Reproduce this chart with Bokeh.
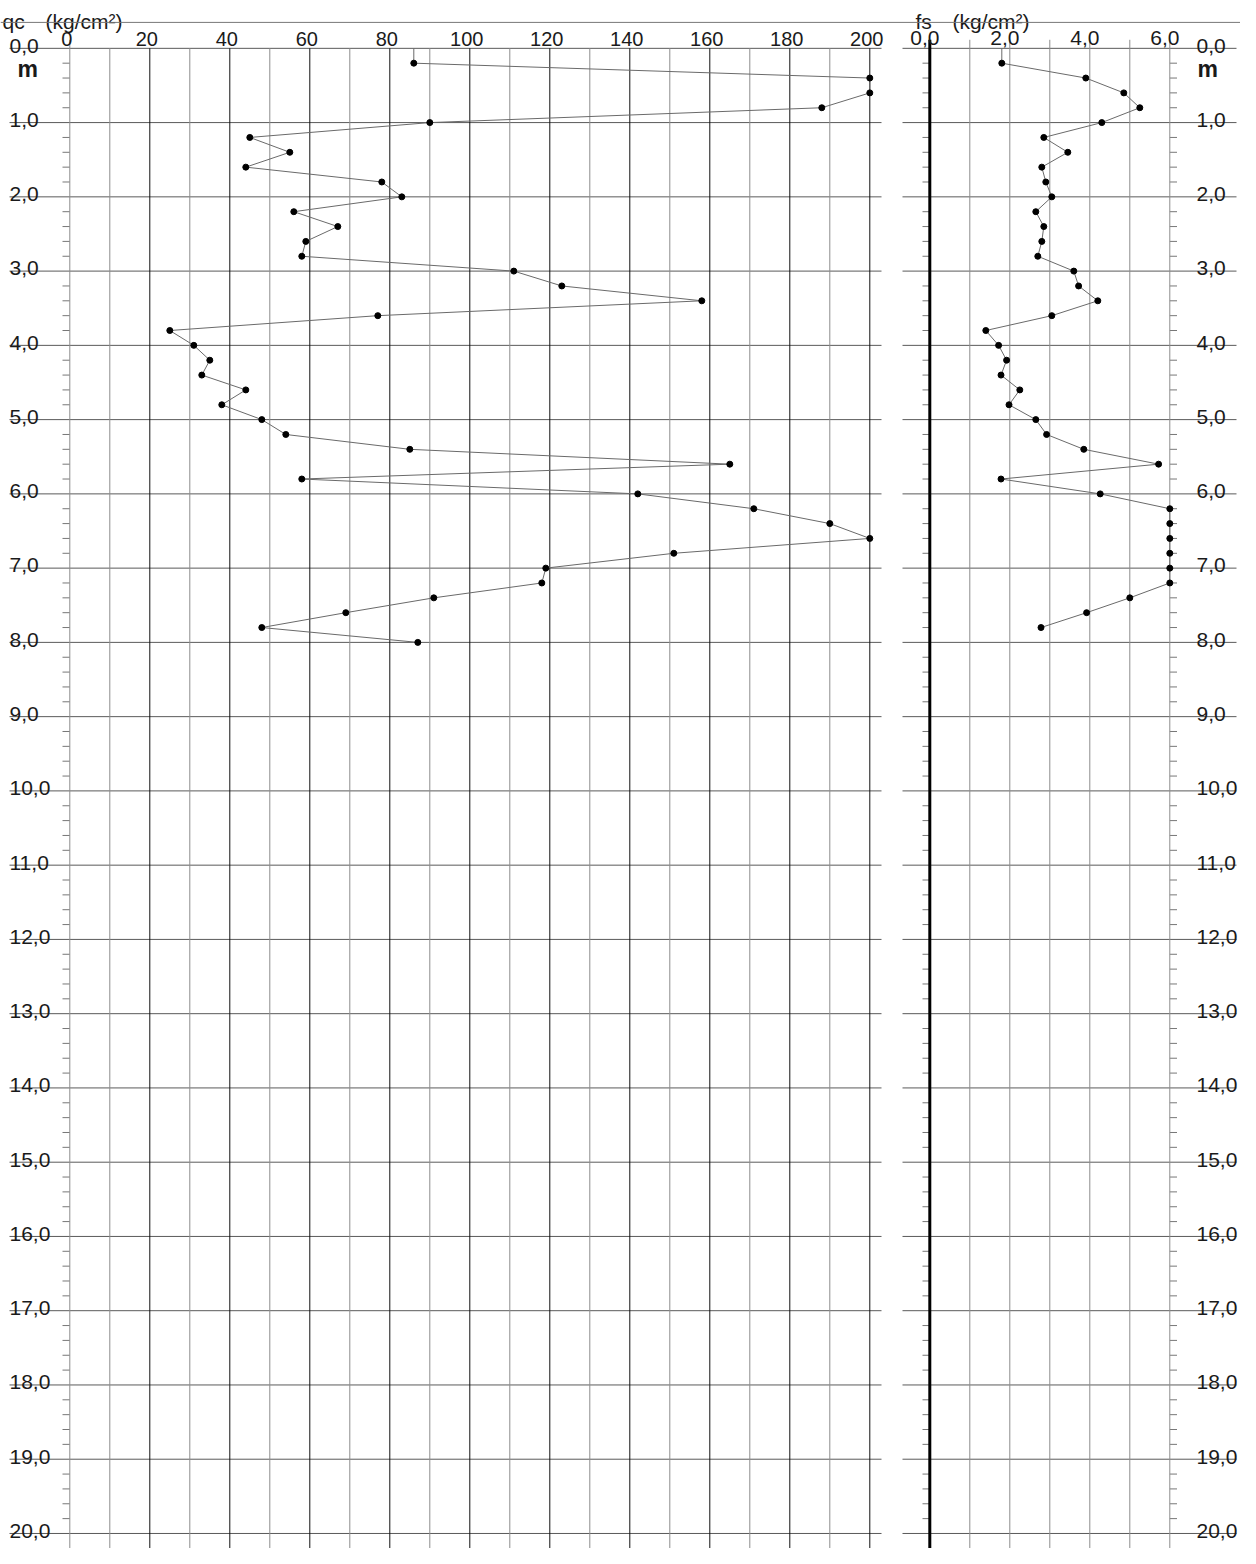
import numpy as np
from bokeh.plotting import figure
from bokeh.models import Range1d, Span
from bokeh.core.properties import value
from bokeh.embed import file_html
from bokeh.resources import INLINE

# ---------------- data ----------------
depth_m = [0.2, 0.4, 0.6, 0.8, 1.0, 1.2, 1.4, 1.6, 1.8, 2.0,
           2.2, 2.4, 2.6, 2.8, 3.0, 3.2, 3.4, 3.6, 3.8, 4.0,
           4.2, 4.4, 4.6, 4.8, 5.0, 5.2, 5.4, 5.6, 5.8, 6.0,
           6.2, 6.4, 6.6, 6.8, 7.0, 7.2, 7.4, 7.6, 7.8, 8.0]
qc_values = [86, 200, 200, 188, 90, 45, 55, 44, 78, 83,
             56, 67, 59, 58, 111, 123, 158, 77, 25, 31,
             35, 33, 44, 38, 48, 54, 85, 165, 58, 142,
             171, 190, 200, 151, 119, 118, 91, 69, 48, 87]
fs_values = [1.8, 3.9, 4.85, 5.25, 4.3, 2.85, 3.45, 2.8, 2.9, 3.05,
             2.65, 2.85, 2.8, 2.7, 3.6, 3.72, 4.2, 3.05, 1.4, 1.72,
             1.92, 1.78, 2.25, 1.98, 2.65, 2.92, 3.85, 5.72, 1.78, 4.26,
             6.0, 6.0, 6.0, 6.0, 6.0, 6.0, 5.0, 3.92, 2.78]
fs_depth = depth_m[:len(fs_values)]

qc_ticks = [0, 20, 40, 60, 80, 100, 120, 140, 160, 180, 200]
qc_labels = ["0", "20", "40", "60", "80", "100", "120", "140", "160", "180", "200"]
fs_ticks = [0, 2, 4, 6]
fs_labels = ["0,0", "2,0", "4,0", "6,0"]
depth_ticks = list(range(0, 21))
depth_labels = ["0,0", "1,0", "2,0", "3,0", "4,0", "5,0", "6,0", "7,0", "8,0", "9,0",
                "10,0", "11,0", "12,0", "13,0", "14,0", "15,0", "16,0", "17,0",
                "18,0", "19,0", "20,0"]

# ---------------- layout helpers (pixel -> data) ----------------
QC0, QCPX = 77.3, 4.0      # qc=0 x-position, px per unit
FS0, FSPX = 937.3, 40.0    # fs=0 x-position, px per unit
D0, DPX = 48.7, 75.6       # depth=0 y-position, px per metre

def qx(px):
    return (px - QC0) / QCPX

def fx(px):
    return (px - FS0) / FSPX

def dy(py):
    return (py - D0) / DPX

W, H = 1240, 1548
p = figure(width=W, height=H,
           x_range=Range1d(qx(8), qx(8 + W)),
           y_range=Range1d(dy(1576), dy(0)),
           output_backend="svg", toolbar_location=None,
           x_axis_location=None, y_axis_location=None, min_border=0)
p.extra_x_ranges = {"fs": Range1d(fx(8), fx(8 + W))}
p.grid.visible = False
p.outline_line_color = None
p.background_fill_color = "white"
p.border_fill_color = "white"

FONT = value("Liberation Sans")
TXT = "#1a1a1a"
GRID_H = "#5a5a5a"
GRAY_V = "#8c8c8c"

bottom = dy(1590)

# top line
p.add_layout(Span(location=dy(22.3), dimension="width", line_color="#777777", line_width=1))

# horizontal metre gridlines
p.segment(x0=[qx(17)] * len(depth_ticks), x1=[qx(889)] * len(depth_ticks),
          y0=depth_ticks, y1=depth_ticks, line_color=GRID_H, line_width=1)
p.segment(x0=[fx(910)] * len(depth_ticks), x1=[fx(1244)] * len(depth_ticks),
          y0=depth_ticks, y1=depth_ticks, line_color=GRID_H, line_width=1,
          x_range_name="fs")

# minor depth ticks every 0.2 m
minor = [round(v, 1) for v in np.arange(0.2, 20.0, 0.2) if abs(v - round(v)) > 1e-6]
n = len(minor)
p.segment(x0=[qx(70)] * n, x1=[0] * n, y0=minor, y1=minor, line_color="#777777", line_width=1)
p.segment(x0=[fx(930)] * n, x1=[0] * n, y0=minor, y1=minor, line_color="#777777",
          line_width=1, x_range_name="fs")
p.segment(x0=[6] * n, x1=[fx(1184.5)] * n, y0=minor, y1=minor, line_color="#777777",
          line_width=1, x_range_name="fs")

# vertical qc lines
qc_grid = list(range(0, 201, 10))
for v in qc_grid:
    major = (v % 20 == 0) and v != 0
    top = dy(40) if v == 0 else 0
    p.segment(x0=[v], x1=[v], y0=[top], y1=[bottom],
              line_color="#111111" if major else GRAY_V, line_width=1)

# vertical fs lines
for v in range(0, 7):
    p.segment(x0=[v], x1=[v], y0=[dy(40)], y1=[bottom],
              line_color="#000000" if v == 0 else GRAY_V,
              line_width=3 if v == 0 else 1, x_range_name="fs")

# data series
p.line(x=[qc_values[0]] + qc_values, y=[0] + depth_m, line_color="#6a6a6a", line_width=1)
p.scatter(x=qc_values, y=depth_m, size=6, color="black")
p.line(x=[fs_values[0]] + fs_values, y=[0] + fs_depth, line_color="#6a6a6a", line_width=1,
       x_range_name="fs")
p.scatter(x=fs_values, y=fs_depth, size=6, color="black", x_range_name="fs")

# tick labels
p.text(x=qc_ticks, y=[dy(39.5)] * len(qc_ticks), text=qc_labels, x_offset=-3,
       text_font=FONT, text_font_size="20px", text_align="center",
       text_baseline="alphabetic", text_color=TXT)
p.text(x=fs_ticks, y=[dy(38.5)] * len(fs_ticks), text=fs_labels, x_offset=-5,
       text_font=FONT, text_font_size="21px", text_align="center",
       text_baseline="alphabetic", text_color=TXT, x_range_name="fs")

# depth labels (left and right)
lab_y = [d + dy(46) for d in depth_ticks]
p.text(x=[qx(17)] * len(depth_ticks), y=lab_y, text=depth_labels,
       text_font=FONT, text_font_size="21px", text_align="left",
       text_baseline="alphabetic", text_color=TXT)
p.text(x=[fx(1204)] * len(depth_ticks), y=lab_y, text=depth_labels,
       text_font=FONT, text_font_size="21px", text_align="left",
       text_baseline="alphabetic", text_color=TXT, x_range_name="fs")

# unit "m"
p.text(x=[qx(25)], y=[dy(70)], text=["m"], text_font=FONT, text_font_size="23px",
       text_font_style="bold", text_align="left", text_baseline="alphabetic", text_color=TXT)
p.text(x=[fx(1205)], y=[dy(70)], text=["m"], text_font=FONT, text_font_size="23px",
       text_font_style="bold", text_align="left", text_baseline="alphabetic", text_color=TXT,
       x_range_name="fs")

# headers
p.text(x=[qx(10), qx(53)], y=[dy(21)] * 2, text=["qc", "(kg/cm²)"], text_font=FONT,
       text_font_size="21px", text_align="left", text_baseline="alphabetic", text_color=TXT)
p.text(x=[fx(923), fx(960)], y=[dy(21)] * 2, text=["fs", "(kg/cm²)"], text_font=FONT,
       text_font_size="21px", text_align="left", text_baseline="alphabetic", text_color=TXT,
       x_range_name="fs")

open("out.html", "w").write(file_html(p, INLINE))
